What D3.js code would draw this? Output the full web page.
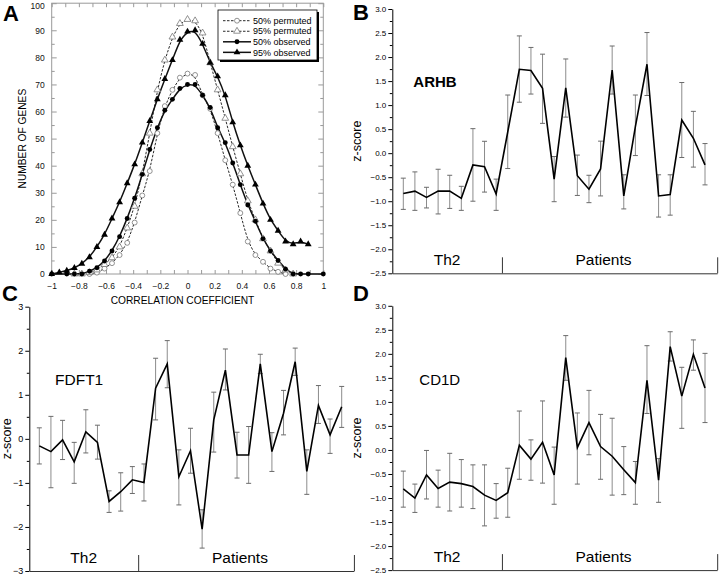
<!DOCTYPE html>
<html><head><meta charset="utf-8">
<script src="https://cdn.jsdelivr.net/npm/d3@7"></script>
<style>
body{margin:0;background:#fff}
svg{display:block;font-family:"Liberation Sans",Arial,Helvetica,sans-serif}
</style>
</head><body>
<svg id="fig" width="720" height="578"></svg>
<script>
// ---------------- Panel A data ----------------
const corrCoef = [-1,-0.944,-0.889,-0.833,-0.778,-0.722,-0.667,-0.611,-0.556,-0.5,-0.444,-0.389,-0.333,-0.278,-0.222,-0.167,-0.111,-0.056,0,0.056,0.111,0.167,0.222,0.278,0.333,0.389,0.444,0.5,0.556,0.611,0.667,0.722,0.778,0.833,0.889,0.944,1];
const permuted50 = [null,null,null,null,null,0,0.5,2,4,7,11.5,19,29,38,52,62,68,72.5,74,73.5,66,61,52,42,33,22.5,12,7,4.5,2,0.8,0,null,null,null,null,null];
const permuted95 = [null,null,null,0,0,0.5,1.5,3.5,6,10,17,25,37,52,68,79,87.5,92.5,94,93.5,89,78,68,57.5,47,37,27,20,13,8.5,4,1.5,0,null,null,null,null];
const observed50 = [0,null,0,0,0,1,2.3,4.8,8.5,13.8,20.5,28,36.8,46,54,60.5,64.5,68.5,70,70,66,61.5,54,48.5,41,33,25.5,19.5,13,8.5,5,1.8,0,0,0,null,0];
const observed95 = [0,0.6,1.2,2.2,3.8,6.2,10,14.5,20.5,26.5,33.5,40.5,48.5,56.5,64.5,72,79,86.5,89.5,90,85,78,73,66,56,47.5,40,33,26,20,16,12,11,12,11,null,null];
const legendLabels = ["50% permuted","95% permuted","50% observed","95% observed"];
const xTicksA = [-1,-0.8,-0.6,-0.4,-0.2,0,0.2,0.4,0.6,0.8,1];
const yTicksA = [0,10,20,30,40,50,60,70,80,90,100];

// ---------------- Panels B-D data ----------------
const groupNames = ["Th2","Patients"];
const th2Count = 9, patientCount = 18;

const arhbValue = [-0.84,-0.79,-0.92,-0.79,-0.79,-0.94,-0.245,-0.28,-0.85,0.44,1.745,1.72,1.35,-0.54,1.36,-0.47,-0.75,-0.33,1.73,-0.89,0.55,1.85,-0.89,-0.86,0.69,0.31,-0.245];
const arhbUpper = [-0.52,-0.39,-0.71,-0.335,-0.46,-0.69,0.51,0.247,-0.54,1.21,2.44,2.2,2.06,-0.07,1.96,-0.04,-0.46,0.25,2.23,-0.45,1.21,2.51,-0.45,-0.45,1.47,0.87,0.2];
const arhbLower = [-1.17,-1.19,-1.14,-1.265,-1.15,-1.19,-1.0,-0.81,-1.19,-0.32,1.06,1.23,0.62,-1.01,0.75,-0.88,-1.03,-0.89,1.23,-1.16,-0.05,1.2,-1.33,-1.29,-0.09,-0.29,-0.66];

const fdftValue = [-0.16,-0.29,-0.025,-0.52,0.16,-0.08,-1.42,-1.2,-0.93,-0.99,1.15,1.7,-0.86,-0.27,-2.05,0.43,1.56,-0.365,-0.365,1.7,-0.29,0.58,1.75,-0.74,0.76,0.09,0.73];
const fdftUpper = [0.25,0.51,0.42,-0.08,0.66,0.31,-1.18,-0.77,-0.63,-0.57,1.83,2.23,-0.25,0.24,-1.61,1.06,2.04,0.15,0.28,1.92,0.14,1.1,2.06,-0.25,1.21,0.45,1.19];
const fdftLower = [-0.57,-1.11,-0.47,-1.01,-0.32,-0.46,-1.67,-1.64,-1.24,-1.41,0.43,1.16,-1.5,-0.78,-2.48,-0.3,1.11,-0.89,-1.01,1.48,-0.74,0.09,1.44,-1.26,0.35,-0.33,0.26];

const cd1dValue = [-0.81,-1.0,-0.52,-0.80,-0.67,-0.70,-0.76,-0.94,-1.05,-0.89,0.1,-0.19,0.16,-0.52,1.92,0.05,0.57,0.07,-0.13,-0.41,-0.68,1.45,-0.63,2.15,1.12,1.99,1.29];
const cd1dUpper = [-0.44,-0.71,-0.01,-0.42,-0.07,-0.2,-0.31,-0.31,-0.7,-0.38,0.81,0.21,1.02,0.06,2.38,0.77,1.24,0.74,0.66,0.07,-0.24,2.17,-0.18,2.46,1.72,2.29,2.01];
const cd1dLower = [-1.19,-1.30,-1.02,-1.19,-1.27,-1.19,-1.22,-1.58,-1.42,-1.40,-0.61,-0.63,-0.69,-1.13,1.45,-0.71,-0.1,-0.61,-0.94,-0.93,-1.13,0.76,-1.09,1.85,0.45,1.66,0.57];

const svg = d3.select("#fig");

// ---------------- Panel A ----------------
(function(){
  const x = d3.scaleLinear([-1,1],[51.7,323.3]);
  const y = d3.scaleLinear([0,100],[274,3.2]);
  const g = svg.append("g");
  const frameCol = "#9a9a9a";
  g.append("rect").attr("x",x(-1)).attr("y",y(100)).attr("width",x(1)-x(-1)).attr("height",y(0)-y(100))
    .attr("fill","none").attr("stroke",frameCol).attr("stroke-width",1);
  const minorX = d3.range(-10,11).map(d=>d/10);
  const style = sel => { sel.select(".domain").remove(); sel.selectAll(".tick line").attr("stroke",frameCol); sel.selectAll("text").attr("fill","#111").style("font-size","8.5px"); };
  g.append("g").attr("transform",`translate(0,${y(0)})`)
    .call(d3.axisBottom(x).tickValues(minorX).tickSize(-4).tickPadding(9)
      .tickFormat(d => xTicksA.some(t=>Math.abs(t-d)<1e-9) ? d3.format("")(+d.toFixed(1)) : ""))
    .call(style);
  g.append("g").attr("transform",`translate(0,${y(100)})`)
    .call(d3.axisTop(x).tickValues(minorX).tickSize(-4).tickFormat("")).call(style);
  const yl = g.append("g").attr("transform",`translate(${x(-1)},0)`)
    .call(d3.axisLeft(y).tickValues(yTicksA).tickSize(-5).tickPadding(7)).call(style);
  // keep the top label ("100") inside the picture
  yl.selectAll(".tick text").filter(d=>d===100).attr("dy","0.62em");
  g.append("g").attr("transform",`translate(${x(-1)},0)`)
    .call(d3.axisLeft(y).tickValues(d3.range(5,100,10)).tickSize(-3).tickFormat("")).call(style);
  g.append("g").attr("transform",`translate(${x(1)},0)`)
    .call(d3.axisRight(y).tickValues(yTicksA).tickSize(-5).tickFormat("")).call(style);
  g.append("g").attr("transform",`translate(${x(1)},0)`)
    .call(d3.axisRight(y).tickValues(d3.range(5,100,10)).tickSize(-3).tickFormat("")).call(style);

  g.append("text").attr("x",x(0)-5).attr("y",304).attr("text-anchor","middle").style("font-size","10.2px").text("CORRELATION COEFFICIENT");
  g.append("text").attr("transform",`translate(26,${y(50)}) rotate(-90)`).attr("text-anchor","middle").style("font-size","10.2px").text("NUMBER OF GENES");

  const series = [
    {vals:permuted50, dash:"2.5,1.5", w:0.9, mark:"circle", fill:false},
    {vals:permuted95, dash:"2.5,1.5", w:0.9, mark:"triangle", fill:false},
    {vals:observed50, dash:null, w:1.5, mark:"circle", fill:true},
    {vals:observed95, dash:null, w:1.5, mark:"triangle", fill:true}
  ];
  const sym = {circle:d3.symbol(d3.symbolCircle,19), triangle:d3.symbol(d3.symbolTriangle,20)};
  const line = d3.line().x(d=>x(d[0])).y(d=>y(d[1])).curve(d3.curveBasis);
  series.forEach(s=>{
    const pts = corrCoef.map((c,i)=>[c,s.vals[i]]).filter(d=>d[1]!==null);
    g.append("path").attr("d",line(pts)).attr("fill","none").attr("stroke","#111")
      .attr("stroke-width",s.w).attr("stroke-dasharray",s.dash);
    s.pts = pts;
  });
  series.forEach(s=>{
    g.append("g").selectAll("path").data(s.pts).join("path")
      .attr("transform",d=>`translate(${x(d[0])},${y(d[1])})`)
      .attr("d",sym[s.mark])
      .attr("fill",s.fill?"#000":"#fff").attr("stroke",s.fill?"#000":"#777").attr("stroke-width",s.fill?0:0.8);
  });

  // legend
  const lg = g.append("g");
  lg.append("rect").attr("x",220).attr("y",12).attr("width",99).attr("height",50).attr("fill","#000");
  lg.append("rect").attr("x",218).attr("y",10).attr("width",99).attr("height",50).attr("fill","#fff").attr("stroke","#000").attr("stroke-width",0.8);
  series.forEach((s,i)=>{
    const cy = 20.7 + i*10.55;
    lg.append("line").attr("x1",223).attr("x2",251).attr("y1",cy).attr("y2",cy)
      .attr("stroke","#111").attr("stroke-width",s.w).attr("stroke-dasharray",s.dash);
    lg.append("path").attr("transform",`translate(237,${cy})`).attr("d",sym[s.mark])
      .attr("fill",s.fill?"#000":"#fff").attr("stroke",s.fill?"#000":"#777").attr("stroke-width",s.fill?0:0.8);
    lg.append("text").attr("x",253).attr("y",cy+3.2).style("font-size","9px").text(legendLabels[i]);
  });
})();

// ---------------- z-score panels ----------------
function zPanel(opt){
  const g = svg.append("g");
  const n = opt.value.length;
  const x = d3.scaleLinear([0,n-1],[opt.x0,opt.x1]);
  const y = d3.scaleLinear([opt.ymin,opt.ymax],[opt.yBottom,opt.yTop]);
  const axisStart = opt.axisX;
  const startIdx = x.invert(axisStart);
  const endIdx = th2Count + patientCount - 1 + 1.05;
  const divider = th2Count - 0.5;

  // y axis
  const ax = g.append("g").attr("transform",`translate(${axisStart},0)`)
    .call(d3.axisLeft(y).tickValues(opt.majorTicks).tickFormat(opt.fmt).tickSize(4).tickPadding(2).tickSizeOuter(0));
  ax.selectAll("text").style("font-size",opt.tickFont);
  ax.select(".domain").attr("stroke","#000");
  g.append("g").attr("transform",`translate(${axisStart},0)`)
    .call(d3.axisLeft(y).tickValues(opt.minorTicks).tickFormat("").tickSize(2.5).tickSizeOuter(0))
    .select(".domain").remove();

  // bottom group axis
  const xb = x.copy().domain([startIdx,endIdx]).range([x(startIdx),x(endIdx)]);
  const bx = g.append("g").attr("transform",`translate(0,${y(opt.ymin)})`)
    .call(d3.axisBottom(xb).tickValues([divider,endIdx]).tickSize(-16).tickSizeOuter(0).tickFormat(""));
  bx.select(".domain").attr("stroke","#333");
  bx.selectAll(".tick line").attr("stroke","#333");
  const centers = [(startIdx+divider)/2, (divider + (n-1))/2];
  groupNames.forEach((nm,i)=>{
    g.append("text").attr("x",x(centers[i])).attr("y",y(opt.ymin)-8.5).attr("text-anchor","middle")
      .style("font-size","15.5px").text(nm);
  });

  // y title
  g.append("text").attr("transform",`translate(${opt.titleX},${(y(opt.ymin)+y(opt.ymax))/2}) rotate(-90)`)
    .attr("text-anchor","middle").attr("dy","0.35em").style("font-size","12.5px").text("z-score");

  // gene name
  g.append("text").attr("x",opt.geneX).attr("y",opt.geneY).style("font-size",opt.geneSize)
    .style("font-weight",opt.geneBold?"bold":"normal").text(opt.gene);

  // error bars
  const idx = d3.range(n);
  const eb = g.append("g");
  eb.selectAll("line.v").data(idx).join("line").attr("class","v")
    .attr("x1",i=>x(i)).attr("x2",i=>x(i)).attr("y1",i=>y(opt.upper[i])).attr("y2",i=>y(opt.lower[i]))
    .attr("stroke","#8c8c8c").attr("stroke-width",1);
  ["upper","lower"].forEach(k=>{
    eb.selectAll("line."+k).data(idx).join("line").attr("class",k)
      .attr("x1",i=>x(i)-2.5).attr("x2",i=>x(i)+2.5).attr("y1",i=>y(opt[k][i])).attr("y2",i=>y(opt[k][i]))
      .attr("stroke","#6a6a6a").attr("stroke-width",1);
  });
  g.append("path").attr("d",d3.line().x((d,i)=>x(i)).y(d=>y(d))(opt.value))
    .attr("fill","none").attr("stroke","#000").attr("stroke-width",1.6).attr("stroke-linejoin","miter");

  // panel letter
  g.append("text").attr("x",opt.letterX).attr("y",opt.letterY).style("font-size","22px").style("font-weight","bold").text(opt.letter);
}

const halfTicks = d3.range(-5,7).map(d=>d/2);          // -2.5 .. 3.0
const quarterTicks = d3.range(-9,12,2).map(d=>d/4);    // -2.25 .. 2.75

zPanel({value:arhbValue, upper:arhbUpper, lower:arhbLower, x0:403.3, x1:705, ymin:-2.5, ymax:3, yBottom:273.3, yTop:9,
  axisX:392.3, majorTicks:halfTicks, minorTicks:quarterTicks, fmt:d3.format(".1f"), tickFont:"8px",
  titleX:357, gene:"ARHB", geneX:413.3, geneY:87.3, geneSize:"15px", geneBold:true, letter:"B", letterX:353, letterY:20});

zPanel({value:fdftValue, upper:fdftUpper, lower:fdftLower, x0:39.3, x1:341.7, ymin:-3, ymax:3, yBottom:571, yTop:306.7,
  axisX:29.3, majorTicks:[-3,-2,-1,0,1,2,3], minorTicks:[-2.5,-1.5,-0.5,0.5,1.5,2.5], fmt:d3.format("d"), tickFont:"9px",
  titleX:7, gene:"FDFT1", geneX:55, geneY:384.5, geneSize:"15.5px", geneBold:false, letter:"C", letterX:2, letterY:301});

zPanel({value:cd1dValue, upper:cd1dUpper, lower:cd1dLower, x0:403.3, x1:705, ymin:-2.5, ymax:3, yBottom:570.1, yTop:305.8,
  axisX:392.3, majorTicks:halfTicks, minorTicks:quarterTicks, fmt:d3.format(".1f"), tickFont:"8px",
  titleX:357, gene:"CD1D", geneX:419.3, geneY:384.8, geneSize:"15px", geneBold:false, letter:"D", letterX:353, letterY:301});

// Panel A letter
svg.append("text").attr("x",3).attr("y",20.5).style("font-size","22px").style("font-weight","bold").text("A");
</script>
</body></html>
